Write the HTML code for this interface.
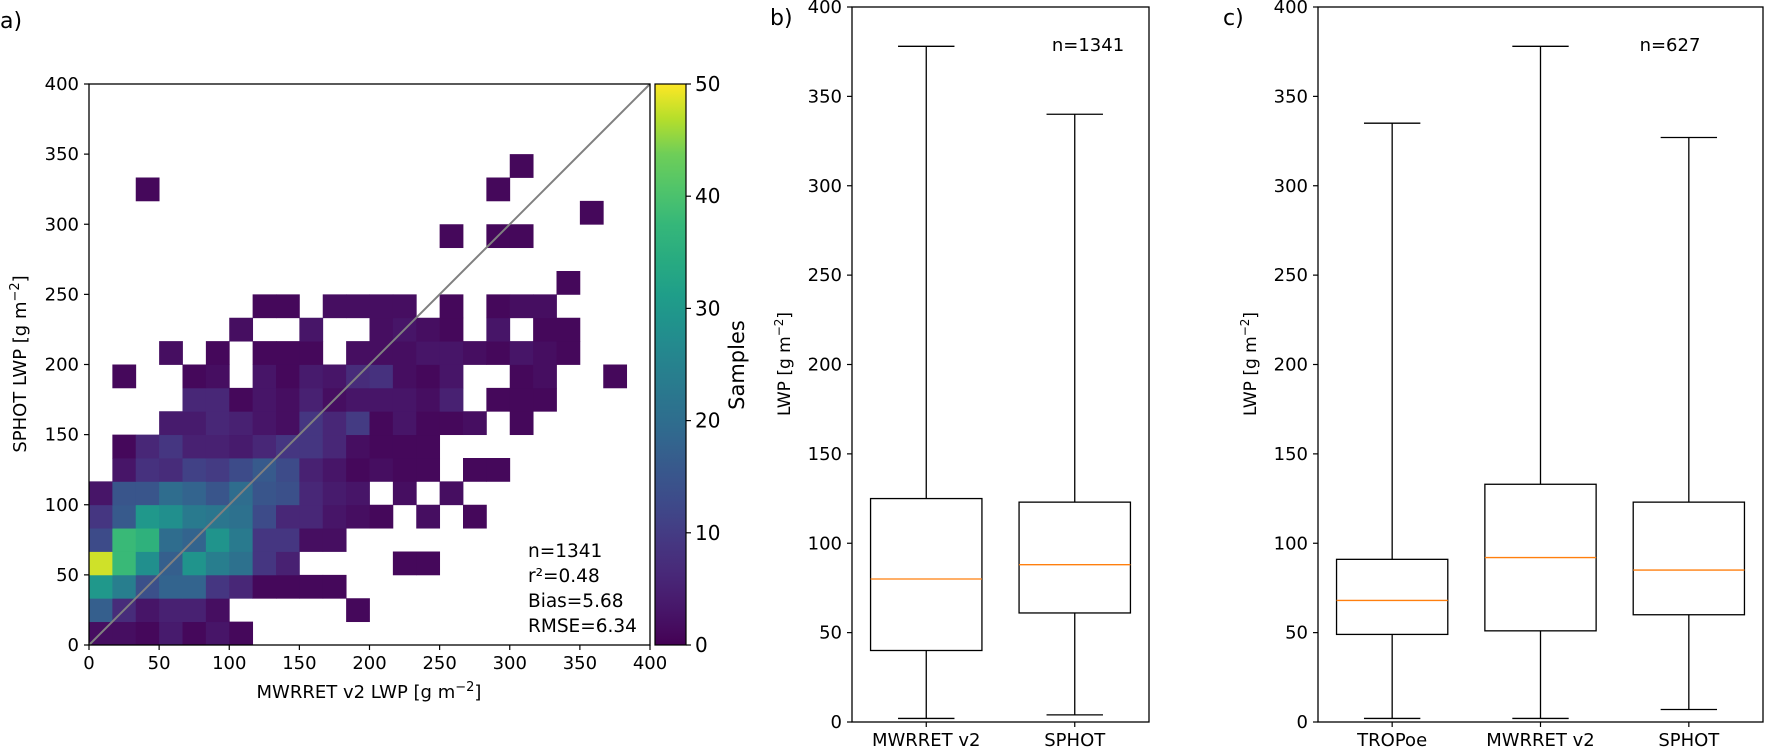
<!DOCTYPE html>
<html><head><meta charset="utf-8"><style>
html,body{margin:0;padding:0;background:#fff}
svg{display:block;font-family:"DejaVu Sans","Liberation Sans",sans-serif}
</style></head><body>
<svg id="fig" width="1765" height="747" viewBox="0 0 1765 747" xmlns="http://www.w3.org/2000/svg">
<g id="pa"></g>
<g id="pb"></g>
<g id="pc"></g>
</svg>
<script>
// ---------- Panel a data: 2D histogram counts (row index = y bin, from bottom), 24x24 bins over 0..400
const binCount = 24;
const axisMax = 400;
const row0 = [2,2,1,4,1,3,1];
const row1 = [17,7,3,5,5,2,0,0,0,0,0,1];
const row2 = [30,24,14,18,18,9,6,1,1,1,1];
const row3 = [48,38,28,17,29,24,21,9,5,0,0,0,0,1,1];
const row4 = [13,38,36,20,18,29,23,9,9,2,2];
const row5 = [9,16,30,28,23,22,21,13,6,6,3,2,1,0,2,0,1];
const row6 = [3,15,15,20,18,15,20,15,14,6,4,3,0,2,0,2];
const row7 = [0,3,8,7,11,10,13,16,13,5,3,1,2,1,1,0,1,1];
const row8 = [0,1,6,9,5,5,4,6,9,9,6,2,1,1,1];
const row9 = [0,0,0,4,4,6,5,3,2,9,6,10,1,3,1,1,2,0,1];
const row10 = [0,0,0,0,6,6,1,3,2,5,2,3,3,3,2,5,0,1,1,1];
const row11 = [0,1,0,0,1,2,0,3,1,4,3,7,8,2,1,3,0,0,1,2,0,0,1];
const row12 = [0,0,0,2,0,1,0,1,1,1,0,2,2,2,3,3,2,1,3,2,1];
const row13 = [0,0,0,0,0,0,2,0,0,3,0,0,2,3,2,1,0,3,0,1,1];
const row14 = [0,0,0,0,0,0,0,1,1,0,2,2,2,2,0,1,0,1,2,2];
const row15 = [0,0,0,0,0,0,0,0,0,0,0,0,0,0,0,0,0,0,0,0,1];
const row16 = [];
const row17 = [0,0,0,0,0,0,0,0,0,0,0,0,0,0,0,1,0,1,1];
const row18 = [0,0,0,0,0,0,0,0,0,0,0,0,0,0,0,0,0,0,0,0,0,1];
const row19 = [0,0,1,0,0,0,0,0,0,0,0,0,0,0,0,0,0,1];
const row20 = [0,0,0,0,0,0,0,0,0,0,0,0,0,0,0,0,0,0,1];
const row21 = [], row22 = [], row23 = [];
const heatRows = [row0,row1,row2,row3,row4,row5,row6,row7,row8,row9,row10,row11,row12,row13,row14,row15,row16,row17,row18,row19,row20,row21,row22,row23];
const axisTicks = [0,50,100,150,200,250,300,350,400];
const cbarTicks = [0,10,20,30,40,50];
const cbarMax = 50;
const statLines = ["n=1341","r²=0.48","Bias=5.68","RMSE=6.34"];

// ---------- Panel b/c data
const bCats = ["MWRRET v2","SPHOT"];
const bWhiskLo = [2,4];
const bQ1 = [40,61];
const bMed = [80,88];
const bQ3 = [125,123];
const bWhiskHi = [378,340];
const cCats = ["TROPoe","MWRRET v2","SPHOT"];
const cWhiskLo = [2,2,7];
const cQ1 = [49,51,60];
const cMed = [68,92,85];
const cQ3 = [91,133,123];
const cWhiskHi = [335,378,327];
const boxTicks = [0,50,100,150,200,250,300,350,400];

const NS="http://www.w3.org/2000/svg";
function mk(tag, attrs, parent){const e=document.createElementNS(NS,tag);for(const k in attrs)e.setAttribute(k,attrs[k]);parent.appendChild(e);return e;}

const vir=[[0,[68,1,84]],[0.0625,[71,22,105]],[0.125,[72,40,120]],[0.1875,[69,56,130]],[0.25,[62,73,137]],[0.3125,[56,88,140]],[0.375,[49,104,142]],[0.4375,[43,117,142]],[0.5,[38,130,142]],[0.5625,[33,144,141]],[0.625,[31,158,137]],[0.6875,[40,171,128]],[0.75,[53,183,121]],[0.8125,[80,196,106]],[0.875,[110,206,88]],[0.9375,[181,222,43]],[1,[253,231,37]]];
function viridis(t){t=Math.max(0,Math.min(1,t));for(let i=1;i<vir.length;i++){if(t<=vir[i][0]){const a=vir[i-1],b=vir[i];const f=(t-a[0])/(b[0]-a[0]);const c=a[1].map((v,k)=>Math.round(v+(b[1][k]-v)*f));return `rgb(${c[0]},${c[1]},${c[2]})`;}}return 'rgb(253,231,37)';}

// ---------- Panel a
const pa=document.getElementById('pa');
const AX0=89, AX1=650, AY0=645, AY1=84;
const sx=v=>AX0+(v/axisMax)*(AX1-AX0);
const sy=v=>AY0-(v/axisMax)*(AY0-AY1);
const bw=axisMax/binCount;
heatRows.forEach((row,j)=>{row.forEach((v,i)=>{if(v>0){
  const r=mk('rect',{x:sx(i*bw),y:sy((j+1)*bw),width:sx((i+1)*bw)-sx(i*bw)+0.4,height:sy(j*bw)-sy((j+1)*bw)+0.4,fill:viridis(v/cbarMax)},pa);
  
  
}});});
const diag=mk('line',{x1:sx(0),y1:sy(0),x2:sx(axisMax),y2:sy(axisMax),stroke:'#808080','stroke-width':2},pa);


const fa=mk('rect',{x:AX0,y:AY1,width:AX1-AX0,height:AY0-AY1,fill:'none',stroke:'#000','stroke-width':1.3},pa);


axisTicks.forEach(t=>{
  mk('line',{x1:sx(t),y1:AY0,x2:sx(t),y2:AY0+5,stroke:'#000','stroke-width':1.2},pa);
  const tx=mk('text',{x:sx(t),y:AY0+24,'text-anchor':'middle','font-size':18},pa);tx.textContent=t;
  
  
  mk('line',{x1:AX0-5,y1:sy(t),x2:AX0,y2:sy(t),stroke:'#000','stroke-width':1.2},pa);
  const ty=mk('text',{x:AX0-10,y:sy(t)+6,'text-anchor':'end','font-size':18},pa);ty.textContent=t;
  
  
});
statLines.forEach((s,k)=>{const t=mk('text',{x:528,y:557+k*25,'font-size':18.5},pa);t.textContent=s;
  
  });
// colorbar
const CX0=655, CX1=686;
const defs=mk('defs',{},pa);
const lg=mk('linearGradient',{id:'vg',x1:0,y1:1,x2:0,y2:0},defs);
for(let k=0;k<=32;k++){mk('stop',{offset:k/32,'stop-color':viridis(k/32)},lg);}
const cb=mk('rect',{x:CX0,y:AY1,width:CX1-CX0,height:AY0-AY1,fill:'url(#vg)',stroke:'#000','stroke-width':1.2},pa);


const cy=v=>AY0-(v/cbarMax)*(AY0-AY1);
cbarTicks.forEach(t=>{mk('line',{x1:CX1,y1:cy(t),x2:CX1+5,y2:cy(t),stroke:'#000','stroke-width':1.2},pa);
  const tt=mk('text',{x:CX1+9,y:cy(t)+7,'font-size':20},pa);tt.textContent=t;
  
  });

// ---------- Boxplots
function boxPanel(g,X0,X1,cats,lo,q1,md,q3,hi){
  const Y0=722,Y1=7;
  const by=v=>Y0-(v/400)*(Y0-Y1);
  const n=cats.length, step=(X1-X0)/n;
  const bx=i=>X0+step*(i+0.5);
  const hw=step*0.375, cw=step*0.19;
  cats.forEach((c,i)=>{
    const x=bx(i);
    const w1=mk('line',{x1:x,y1:by(lo[i]),x2:x,y2:by(q1[i]),stroke:'#000','stroke-width':1.3},g);
    
    
    const w2=mk('line',{x1:x,y1:by(q3[i]),x2:x,y2:by(hi[i]),stroke:'#000','stroke-width':1.3},g);
    
    
    mk('line',{x1:x-cw,y1:by(lo[i]),x2:x+cw,y2:by(lo[i]),stroke:'#000','stroke-width':1.3},g);
    mk('line',{x1:x-cw,y1:by(hi[i]),x2:x+cw,y2:by(hi[i]),stroke:'#000','stroke-width':1.3},g);
    const b=mk('rect',{x:x-hw,y:by(q3[i]),width:2*hw,height:by(q1[i])-by(q3[i]),fill:'none',stroke:'#000','stroke-width':1.3},g);
    
    
    const m=mk('line',{x1:x-hw,y1:by(md[i]),x2:x+hw,y2:by(md[i]),stroke:'#ff7f0e','stroke-width':1.3},g);
    
    
    mk('line',{x1:x,y1:Y0,x2:x,y2:Y0+5,stroke:'#000','stroke-width':1.2},g);
    const t=mk('text',{x:x,y:Y0+24,'text-anchor':'middle','font-size':18},g);t.textContent=c;
    
    
  });
  const f=mk('rect',{x:X0,y:Y1,width:X1-X0,height:Y0-Y1,fill:'none',stroke:'#000','stroke-width':1.3},g);
  
  
  boxTicks.forEach(t=>{mk('line',{x1:X0-5,y1:by(t),x2:X0,y2:by(t),stroke:'#000','stroke-width':1.2},g);
    const ty=mk('text',{x:X0-10,y:by(t)+6,'text-anchor':'end','font-size':18},g);ty.textContent=t;
    
    });
}
boxPanel(document.getElementById('pb'),852,1149,bCats,bWhiskLo,bQ1,bMed,bQ3,bWhiskHi);
boxPanel(document.getElementById('pc'),1318,1763,cCats,cWhiskLo,cQ1,cMed,cQ3,cWhiskHi);
</script>
<div style="position:absolute;left:0;top:0;width:1765px;height:747px;pointer-events:none">
<svg width="1765" height="747" style="font-family:'DejaVu Sans','Liberation Sans',sans-serif">
<text x="0" y="28" font-size="22">a)</text>
<text x="770" y="25" font-size="22">b)</text>
<text x="1223" y="25" font-size="22">c)</text>
<text x="369" y="698" font-size="18" text-anchor="middle">MWRRET v2 LWP [g m<tspan dy="-7" font-size="13">−2</tspan><tspan dy="7">]</tspan></text>
<text transform="translate(26,364) rotate(-90)" font-size="18" text-anchor="middle">SPHOT LWP [g m<tspan dy="-7" font-size="13">−2</tspan><tspan dy="7">]</tspan></text>
<text transform="translate(744,365) rotate(-90)" font-size="21" text-anchor="middle">Samples</text>
<text transform="translate(790,364) rotate(-90)" font-size="17" text-anchor="middle">LWP [g m<tspan dy="-7" font-size="12">−2</tspan><tspan dy="7">]</tspan></text>
<text transform="translate(1256,364) rotate(-90)" font-size="17" text-anchor="middle">LWP [g m<tspan dy="-7" font-size="12">−2</tspan><tspan dy="7">]</tspan></text>
<text x="1088" y="51" font-size="18" text-anchor="middle">n=1341</text>
<text x="1670" y="51" font-size="18" text-anchor="middle">n=627</text>
</svg></div>
</body></html>
